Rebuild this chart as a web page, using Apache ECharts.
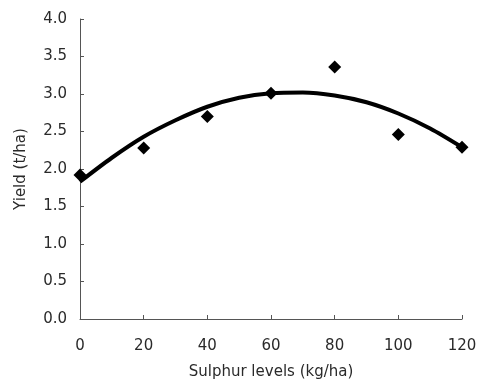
<!DOCTYPE html>
<html>
<head>
<meta charset="utf-8">
<script src="https://cdn.jsdelivr.net/npm/echarts@6/dist/echarts.min.js"></script>
<style>
  html, body { margin: 0; padding: 0; background: #fff; }
  #chart { width: 478px; height: 385px; }
</style>
</head>
<body>
<div id="chart"></div>
<script>
// Observed yields (diamonds)
const sulphurLevels = [0, 20, 40, 60, 80, 100, 120];
const yieldValues = [1.92, 2.28, 2.70, 3.01, 3.36, 2.46, 2.29];

// Fitted curve
const curveX = [0, 10, 20, 30, 40, 50, 60, 70, 80, 90, 100, 110, 120];
const curveY = [1.83, 2.15, 2.43, 2.65, 2.83, 2.95, 3.01, 3.02, 2.98, 2.89, 2.74, 2.54, 2.29];

const chart = echarts.init(document.getElementById('chart'));

const axisStyle = { lineStyle: { color: '#555', width: 1 } };
const labelFont = { color: '#2a2a2a', fontSize: 15, fontFamily: 'DejaVu Sans' };

const option = {
  animation: false,
  grid: { left: 80, right: 16, top: 19, bottom: 66, outerBoundsMode: 'none' },
  xAxis: {
    type: 'value',
    min: 0,
    max: 120,
    interval: 20,
    name: 'Sulphur levels (kg/ha)',
    nameLocation: 'middle',
    nameGap: 46,
    nameTextStyle: labelFont,
    axisLine: axisStyle,
    axisTick: { inside: true, length: 4, lineStyle: { color: '#555' } },
    axisLabel: { ...labelFont, margin: 20 },
    splitLine: { show: false }
  },
  yAxis: {
    type: 'value',
    min: 0,
    max: 4,
    interval: 0.5,
    name: 'Yield (t/ha)',
    nameLocation: 'middle',
    nameGap: 51,
    nameTextStyle: labelFont,
    axisLine: { show: true, ...axisStyle },
    axisTick: { show: true, inside: true, length: 4, lineStyle: { color: '#555' } },
    axisLabel: { ...labelFont, margin: 13, formatter: v => v.toFixed(1) },
    splitLine: { show: false }
  },
  series: [
    {
      type: 'line',
      data: curveX.map((x, i) => [x, curveY[i]]),
      smooth: 0.3,
      showSymbol: false,
      lineStyle: { color: '#000', width: 4 },
      z: 2
    },
    {
      type: 'scatter',
      data: sulphurLevels.map((x, i) => [x, yieldValues[i]]),
      symbol: 'diamond',
      symbolSize: [13, 13],
      itemStyle: { color: '#000', opacity: 1 },
      z: 3
    }
  ]
};

chart.setOption(option);
</script>
</body>
</html>
